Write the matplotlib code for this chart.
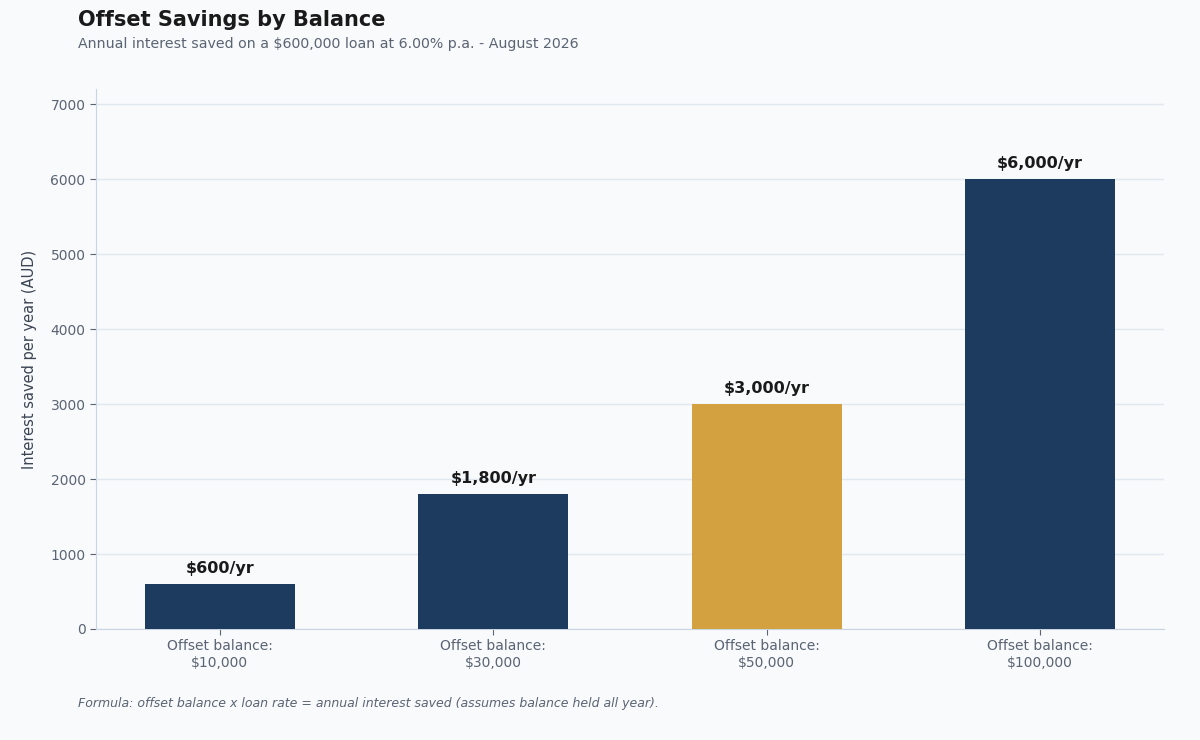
import matplotlib
matplotlib.use("Agg")
import matplotlib.pyplot as plt

# data
categories = ["Offset balance:\n$10,000", "Offset balance:\n$30,000",
              "Offset balance:\n$50,000", "Offset balance:\n$100,000"]
savings = [600, 1800, 3000, 6000]
value_labels = ["$600/yr", "$1,800/yr", "$3,000/yr", "$6,000/yr"]
highlight = 2

BG = "#f8fafc"
NAVY = "#1d3a5f"
GOLD = "#d4a140"

plt.rcParams["font.family"] = ["DejaVu Sans"]

fig = plt.figure(figsize=(12, 7.4), dpi=100, facecolor=BG)
ax = fig.add_axes([0.08, 0.15, 0.89, 0.7297])
ax.set_facecolor(BG)

colors = [GOLD if i == highlight else NAVY for i in range(len(savings))]
x = range(len(categories))
bars = ax.bar(x, savings, width=0.55, color=colors, zorder=3)

for b, lab in zip(bars, value_labels):
    ax.annotate(lab, (b.get_x() + b.get_width() / 2, b.get_height()),
                xytext=(0, 5.5), textcoords="offset points", ha="center", va="bottom",
                fontsize=11.5, fontweight="bold", color="#1a1a1a")

ax.set_ylim(0, 7200)
ax.set_yticks(range(0, 7001, 1000))
ax.set_xticks(list(x))
ax.set_xticklabels(categories)
ax.tick_params(axis="both", colors="#5b6472", labelsize=10)
ax.tick_params(axis="both", color="#5b6472", length=4)
ax.set_ylabel("Interest saved per year (AUD)", fontsize=10.5, color="#3b4452", labelpad=10)

ax.grid(axis="y", color="#e2e8f0", linewidth=1, zorder=0)
for s in ["top", "right"]:
    ax.spines[s].set_visible(False)
for s in ["left", "bottom"]:
    ax.spines[s].set_color("#cbd5e1")

fig.text(78 / 1200, 1 - 20 / 740, "Offset Savings by Balance", fontsize=15, fontweight="bold",
         color="#1a1a1a", ha="left", va="center")
fig.text(78 / 1200, 1 - 44 / 740, "Annual interest saved on a $600,000 loan at 6.00% p.a. - August 2026",
         fontsize=10.2, color="#5b6472", ha="left", va="center")
fig.text(78 / 1200, 1 - 703 / 740,
         "Formula: offset balance x loan rate = annual interest saved (assumes balance held all year).",
         fontsize=9, style="italic", color="#5b6472", ha="left", va="center")

fig.savefig("out.png", dpi=100, facecolor=BG)
